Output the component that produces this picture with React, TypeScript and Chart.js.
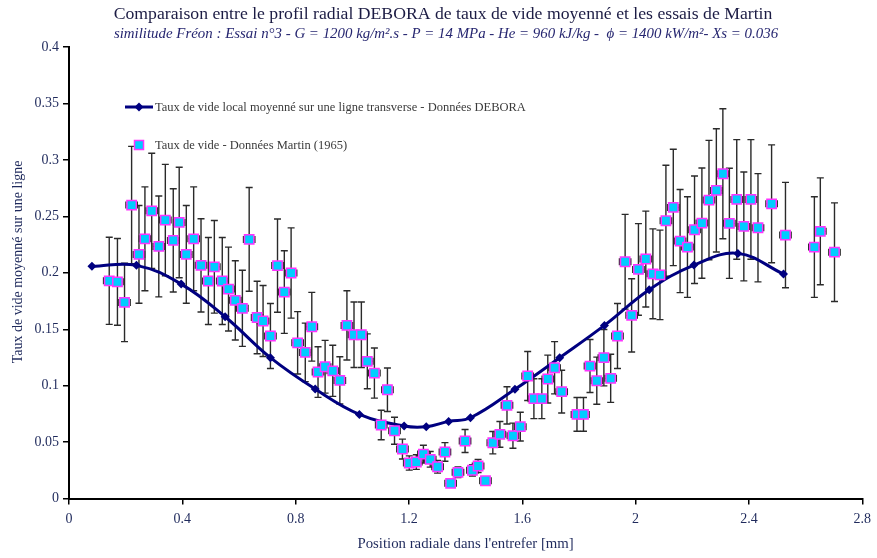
import React, { useEffect, useRef } from 'react';
import { Chart, registerables } from 'chart.js';

Chart.register(...registerables);

// ---- Text ----
const TITLE = 'Comparaison entre le profil radial DEBORA de taux de vide moyenné et les essais de Martin';
const SUBTITLE = 'similitude Fréon : Essai n°3 - G = 1200 kg/m².s - P = 14 MPa - He = 960 kJ/kg -  \u03D5 = 1400 kW/m²- Xs = 0.036';
const X_TITLE = "Position radiale dans l'entrefer [mm]";
const Y_TITLE = 'Taux de vide moyenné sur une ligne';
const LABEL_DEBORA = 'Taux de vide local moyenné sur une ligne transverse - Données DEBORA';
const LABEL_MARTIN = 'Taux de vide - Données Martin (1965)';

// ---- DEBORA profile ----
const deboraX = [0.081, 0.238, 0.396, 0.551, 0.711, 0.869, 1.025, 1.183, 1.261, 1.34, 1.417, 1.574, 1.732, 1.89, 2.048, 2.206, 2.361, 2.522];
const deboraY = [0.2057, 0.2066, 0.19, 0.1611, 0.1248, 0.097, 0.0746, 0.0643, 0.0637, 0.0684, 0.0716, 0.0968, 0.1248, 0.1534, 0.185, 0.2068, 0.2172, 0.1989];

// ---- Martin (1965) measurements ----
const martinX = [
  0.142, 0.171, 0.196, 0.221, 0.247, 0.268, 0.292, 0.317, 0.34, 0.368,
  0.389, 0.414, 0.44, 0.466, 0.492, 0.513, 0.541, 0.563, 0.587, 0.612,
  0.636, 0.664, 0.685, 0.711, 0.736, 0.76, 0.784, 0.807, 0.834, 0.857,
  0.879, 0.904, 0.931, 0.956, 0.981, 1.006, 1.032, 1.053, 1.078, 1.124,
  1.102, 1.149, 1.177, 1.201, 1.226, 1.251, 1.275, 1.301, 1.327, 1.398,
  1.347, 1.373, 1.424, 1.444, 1.47, 1.496, 1.521, 1.546, 1.567, 1.593,
  1.619, 1.641, 1.669, 1.69, 1.714, 1.739, 1.793, 1.816, 1.839, 1.863,
  1.888, 1.912, 1.936, 1.986, 1.963, 2.01, 2.036, 2.061, 2.086, 2.107,
  2.133, 2.157, 2.183, 2.208, 2.234, 2.259, 2.285, 2.308, 2.331, 2.357,
  2.382, 2.407, 2.432, 2.48, 2.529, 2.631, 2.652, 2.702,
];
const martinY = [
  0.1929, 0.192, 0.1738, 0.26, 0.2163, 0.2301, 0.2549, 0.2234, 0.2467, 0.2287,
  0.2446, 0.2163, 0.2301, 0.2066, 0.1927, 0.2053, 0.1927, 0.1856, 0.1756, 0.1685,
  0.2296, 0.1604, 0.1573, 0.144, 0.2064, 0.1829, 0.1998, 0.138, 0.1295, 0.1522,
  0.1121, 0.1168, 0.1132, 0.1047, 0.1534, 0.1451, 0.1451, 0.1216, 0.1112, 0.0964,
  0.0652, 0.0601, 0.0439, 0.0315, 0.0324, 0.0394, 0.0348, 0.0282, 0.0413, 0.051,
  0.0135, 0.0233, 0.0251, 0.0289, 0.0158, 0.0495, 0.0569, 0.0826, 0.0557, 0.0637,
  0.1086, 0.0885, 0.0885, 0.1059, 0.1159, 0.0947, 0.0746, 0.0746, 0.1174, 0.1044,
  0.1248, 0.1065, 0.144, 0.1623, 0.2098, 0.203, 0.2122, 0.1991, 0.1982, 0.2461,
  0.2579, 0.2281, 0.2228, 0.2381, 0.244, 0.2644, 0.273, 0.2877, 0.2438, 0.265,
  0.2411, 0.265, 0.2399, 0.2611, 0.2334, 0.2228, 0.2367, 0.2183,
];
// Error bars as shown: +/-20 % on the void fraction, +/-0.02 mm on position
const MARTIN_REL_ERR = 0.2;
const MARTIN_X_ERR = 0.02;

// ---- Axes ----
const X_MIN = 0, X_MAX = 2.8, X_STEP = 0.4;
const Y_MIN = 0, Y_MAX = 0.4, Y_STEP = 0.05;

const SERIF = '"Liberation Serif", "Times New Roman", serif';
const NAVY = '#000080';
const CYAN = '#00CCFF';
const MAGENTA = '#FF33FF';
const TEXT_COLOR = '#1f2a5c';

const errorBarsPlugin = {
  id: 'errorBars',
  beforeDatasetsDraw(chart: any) {
    const { ctx, scales } = chart;
    const xs = scales.x, ys = scales.y;
    ctx.save();
    ctx.strokeStyle = '#2a2a2a';
    ctx.lineWidth = 1.4;
    const cap = 3.5;
    martinX.forEach((mx, i) => {
      const my = martinY[i];
      const e = my * MARTIN_REL_ERR;
      const px = xs.getPixelForValue(mx);
      const py = ys.getPixelForValue(my);
      const yt = ys.getPixelForValue(my + e);
      const yb = ys.getPixelForValue(my - e);
      const xl = xs.getPixelForValue(mx - MARTIN_X_ERR);
      const xr = xs.getPixelForValue(mx + MARTIN_X_ERR);
      ctx.beginPath();
      ctx.moveTo(px, yt); ctx.lineTo(px, yb);
      ctx.moveTo(px - cap, yt); ctx.lineTo(px + cap, yt);
      ctx.moveTo(px - cap, yb); ctx.lineTo(px + cap, yb);
      ctx.moveTo(xl, py); ctx.lineTo(xr, py);
      ctx.moveTo(xl, py - cap); ctx.lineTo(xl, py + cap);
      ctx.moveTo(xr, py - cap); ctx.lineTo(xr, py + cap);
      ctx.stroke();
    });
    ctx.restore();
  },
};

const titlesPlugin = {
  id: 'titlesAndLegend',
  afterDraw(chart: any) {
    const { ctx } = chart;
    ctx.save();
    ctx.textBaseline = 'middle';
    ctx.textAlign = 'center';
    ctx.fillStyle = '#1c1c44';
    ctx.font = `17.7px ${SERIF}`;
    ctx.fillText(TITLE, 443, 14);
    ctx.fillStyle = '#262670';
    ctx.font = `italic 14.9px ${SERIF}`;
    ctx.fillText(SUBTITLE, 446, 34);

    // y axis title
    ctx.save();
    ctx.translate(18, 262);
    ctx.rotate(-Math.PI / 2);
    ctx.fillStyle = TEXT_COLOR;
    ctx.font = `14px ${SERIF}`;
    ctx.fillText(Y_TITLE, 0, 0);
    ctx.restore();

    // legend
    ctx.textAlign = 'left';
    ctx.font = `12.5px ${SERIF}`;
    // DEBORA entry
    ctx.strokeStyle = NAVY;
    ctx.lineWidth = 3;
    ctx.beginPath();
    ctx.moveTo(125, 107); ctx.lineTo(153, 107);
    ctx.stroke();
    ctx.fillStyle = NAVY;
    ctx.beginPath();
    ctx.moveTo(139, 102.5); ctx.lineTo(143.5, 107); ctx.lineTo(139, 111.5); ctx.lineTo(134.5, 107);
    ctx.closePath();
    ctx.fill();
    ctx.fillStyle = '#3a3a3a';
    ctx.fillText(LABEL_DEBORA, 155, 108);
    // Martin entry
    ctx.fillStyle = CYAN;
    ctx.strokeStyle = MAGENTA;
    ctx.lineWidth = 1.5;
    ctx.fillRect(134.5, 140.5, 9, 9);
    ctx.strokeRect(134.5, 140.5, 9, 9);
    ctx.fillStyle = '#3a3a3a';
    ctx.fillText(LABEL_MARTIN, 155, 146);
    ctx.restore();
  },
};

export default function App() {
  const canvasRef = useRef<HTMLCanvasElement | null>(null);

  useEffect(() => {
    const canvas = canvasRef.current;
    if (!canvas) return;
    const chart = new Chart(canvas, {
      type: 'scatter',
      data: {
        datasets: [
          {
            label: LABEL_MARTIN,
            data: martinX.map((x, i) => ({ x, y: martinY[i] })),
            pointStyle: 'rect',
            pointRadius: 6.6,
            pointBackgroundColor: CYAN,
            pointBorderColor: MAGENTA,
            pointBorderWidth: 1.5,
            showLine: false,
          },
          {
            label: LABEL_DEBORA,
            data: deboraX.map((x, i) => ({ x, y: deboraY[i] })),
            showLine: true,
            borderColor: NAVY,
            borderWidth: 3,
            tension: 0.4,
            pointStyle: 'rectRot',
            pointRadius: 4.5,
            pointBackgroundColor: NAVY,
            pointBorderColor: NAVY,
            pointBorderWidth: 0,
          },
        ],
      },
      options: {
        responsive: false,
        animation: false,
        devicePixelRatio: 1,
        layout: { padding: { top: 47, right: 11, left: 0, bottom: 0 } },
        plugins: {
          legend: { display: false },
          tooltip: { enabled: false },
          title: { display: false },
        },
        scales: {
          x: {
            type: 'linear',
            min: X_MIN,
            max: X_MAX,
            afterFit: (s: any) => { s.height = 59.4; },
            ticks: {
              stepSize: X_STEP,
              color: TEXT_COLOR,
              font: { family: SERIF, size: 14 },
              padding: 6,
              maxRotation: 0,
              callback: (v: any) => String(+Number(v).toFixed(2)),
            },
            grid: { drawOnChartArea: false, drawTicks: true, tickLength: 6, color: '#000', lineWidth: 1.5 },
            border: { display: true, color: '#000', width: 2 },
            title: {
              display: true,
              text: X_TITLE,
              color: TEXT_COLOR,
              font: { family: SERIF, size: 14.8 },
              padding: { top: 2, bottom: 5 },
            },
          },
          y: {
            type: 'linear',
            min: Y_MIN,
            max: Y_MAX,
            afterFit: (s: any) => { s.width = 69; },
            ticks: {
              stepSize: Y_STEP,
              color: TEXT_COLOR,
              font: { family: SERIF, size: 14 },
              padding: 4,
              callback: (v: any) => String(+Number(v).toFixed(2)),
            },
            grid: { drawOnChartArea: false, drawTicks: true, tickLength: 6, color: '#000', lineWidth: 1.5 },
            border: { display: true, color: '#000', width: 2 },
            title: { display: false },
          },
        },
      },
      plugins: [errorBarsPlugin, titlesPlugin],
    });
    return () => chart.destroy();
  }, []);

  return (
    <div style={{ position: 'absolute', left: 0, top: 0, width: 877, height: 558, background: '#fff' }}>
      <canvas ref={canvasRef} width={877} height={558} style={{ display: 'block' }} />
    </div>
  );
}
